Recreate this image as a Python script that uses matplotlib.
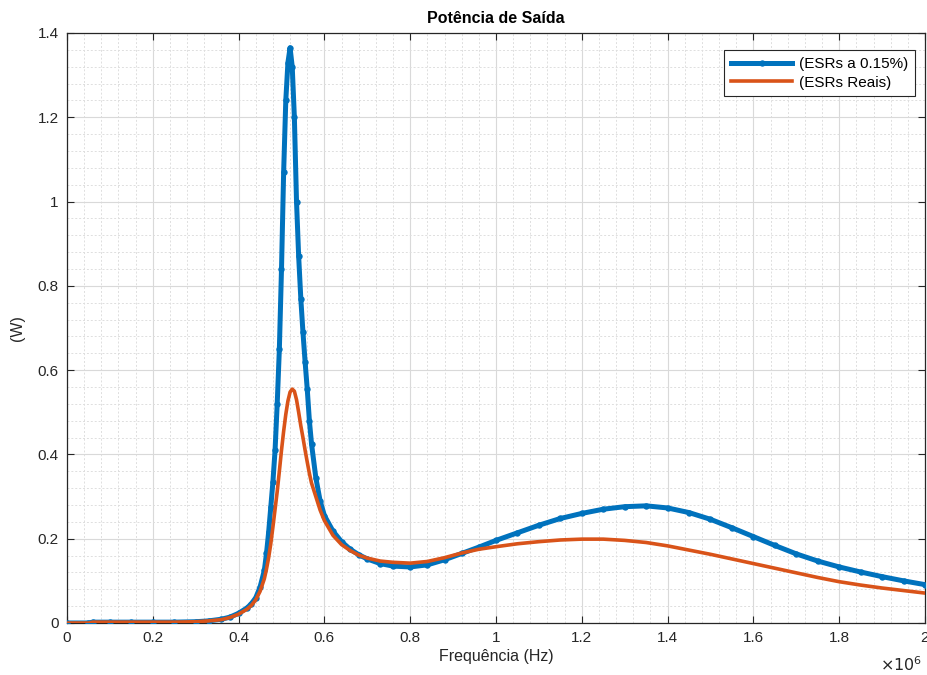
import matplotlib
matplotlib.use("Agg")
import matplotlib.pyplot as plt
from matplotlib.ticker import MultipleLocator, FuncFormatter

plt.rcParams['font.family'] = ['Liberation Sans', 'DejaVu Sans']

freq_mhz = [0, 0.05, 0.06, 0.1, 0.15, 0.2, 0.25, 0.3, 0.33, 0.36, 0.38, 0.40,
            0.42, 0.43, 0.44, 0.45, 0.46, 0.465, 0.47, 0.475, 0.48, 0.485, 0.49,
            0.495, 0.50, 0.505, 0.51, 0.515, 0.52, 0.525, 0.53, 0.535, 0.54,
            0.545, 0.55, 0.555, 0.56, 0.565, 0.57, 0.58, 0.59, 0.60, 0.62, 0.64,
            0.66, 0.68, 0.70, 0.73, 0.76, 0.80, 0.84, 0.88, 0.92, 0.96, 1.00,
            1.05, 1.10, 1.15, 1.20, 1.25, 1.30, 1.35, 1.40, 1.45, 1.50, 1.55,
            1.60, 1.65, 1.70, 1.75, 1.80, 1.85, 1.90, 1.95, 2.00]

# Output power (W), "ESRs a 0.15%"
p_esr_015 = [0.000, 0.000, 0.002, 0.002, 0.002, 0.002, 0.002, 0.003, 0.005, 0.009,
             0.014, 0.023, 0.036, 0.046, 0.060, 0.085, 0.125, 0.165, 0.215, 0.275,
             0.335, 0.410, 0.520, 0.650, 0.840, 1.070, 1.240, 1.330, 1.365, 1.320,
             1.200, 1.000, 0.870, 0.770, 0.690, 0.620, 0.555, 0.480, 0.425, 0.345,
             0.290, 0.255, 0.218, 0.193, 0.175, 0.162, 0.152, 0.141, 0.135, 0.133,
             0.138, 0.150, 0.165, 0.180, 0.196, 0.214, 0.232, 0.248, 0.260, 0.270,
             0.276, 0.278, 0.273, 0.262, 0.246, 0.226, 0.205, 0.184, 0.164, 0.147,
             0.133, 0.121, 0.110, 0.100, 0.091]

# Output power (W), "ESRs Reais"
p_esr_real = [0.000, 0.000, 0.002, 0.002, 0.002, 0.002, 0.002, 0.003, 0.005, 0.008,
              0.013, 0.021, 0.033, 0.042, 0.055, 0.075, 0.105, 0.128, 0.155, 0.188,
              0.228, 0.270, 0.312, 0.360, 0.410, 0.455, 0.495, 0.527, 0.548, 0.555,
              0.550, 0.530, 0.500, 0.468, 0.440, 0.410, 0.382, 0.355, 0.332, 0.300,
              0.268, 0.243, 0.208, 0.186, 0.172, 0.161, 0.154, 0.147, 0.144, 0.142,
              0.146, 0.155, 0.166, 0.175, 0.181, 0.188, 0.193, 0.197, 0.199, 0.199,
              0.196, 0.191, 0.183, 0.173, 0.163, 0.152, 0.141, 0.130, 0.119, 0.108,
              0.098, 0.090, 0.083, 0.077, 0.071]

labels = ['(ESRs a 0.15%)', '(ESRs Reais)']
title = 'Potência de Saída'
xlabel = 'Frequência (Hz)'
ylabel = '(W)'

freq_hz = [f * 1e6 for f in freq_mhz]

txt = '#262626'
fig = plt.figure(figsize=(9.28, 6.75), dpi=100)
ax = fig.add_axes([67/928, 52/675, 858/928, 590/675])

ax.plot(freq_hz, p_esr_015, color='#0072BD', lw=3.6, marker='o', ms=4.6,
        markeredgewidth=0, label=labels[0], zorder=3)
ax.plot(freq_hz, p_esr_real, color='#D95319', lw=2.6, label=labels[1], zorder=4)

ax.set_xlim(0, 2e6)
ax.set_ylim(0, 1.4)
ax.xaxis.set_major_locator(MultipleLocator(0.2e6))
ax.xaxis.set_minor_locator(MultipleLocator(0.04e6))
ax.yaxis.set_major_locator(MultipleLocator(0.2))
ax.yaxis.set_minor_locator(MultipleLocator(0.04))
ax.xaxis.set_major_formatter(FuncFormatter(lambda v, p: f"{v/1e6:g}"))
ax.yaxis.set_major_formatter(FuncFormatter(lambda v, p: f"{v:g}"))

ax.grid(which='major', color='#d9d9d9', lw=0.8, ls='-')
ax.grid(which='minor', color='#dedede', lw=0.7, ls=(0, (2, 2)))
ax.set_axisbelow(True)

ax.tick_params(which='major', direction='in', length=5, width=0.8,
               top=True, right=True, colors=txt, labelsize=11, pad=6)
ax.tick_params(which='minor', length=0)
for s in ax.spines.values():
    s.set_color(txt)
    s.set_linewidth(0.9)

ax.set_title(title, fontsize=11.5, fontweight='bold', color='black', pad=7)
ax.set_xlabel(xlabel, fontsize=11.5, color=txt, labelpad=3)
ax.set_ylabel(ylabel, fontsize=11.5, color=txt, labelpad=9)

fig.text(922/928, 1 - 671/675, r'$\times10^{6}$', ha='right', va='baseline',
         fontsize=11.5, color=txt)

leg = ax.legend(loc='upper right', bbox_to_anchor=(0.988, 0.971), fontsize=11,
                frameon=True, fancybox=False, framealpha=1, edgecolor=txt,
                handlelength=4.0, borderpad=0.45, labelspacing=0.3,
                handletextpad=0.4, borderaxespad=0)
leg.get_frame().set_linewidth(0.8)

fig.savefig('out.png', dpi=100)
